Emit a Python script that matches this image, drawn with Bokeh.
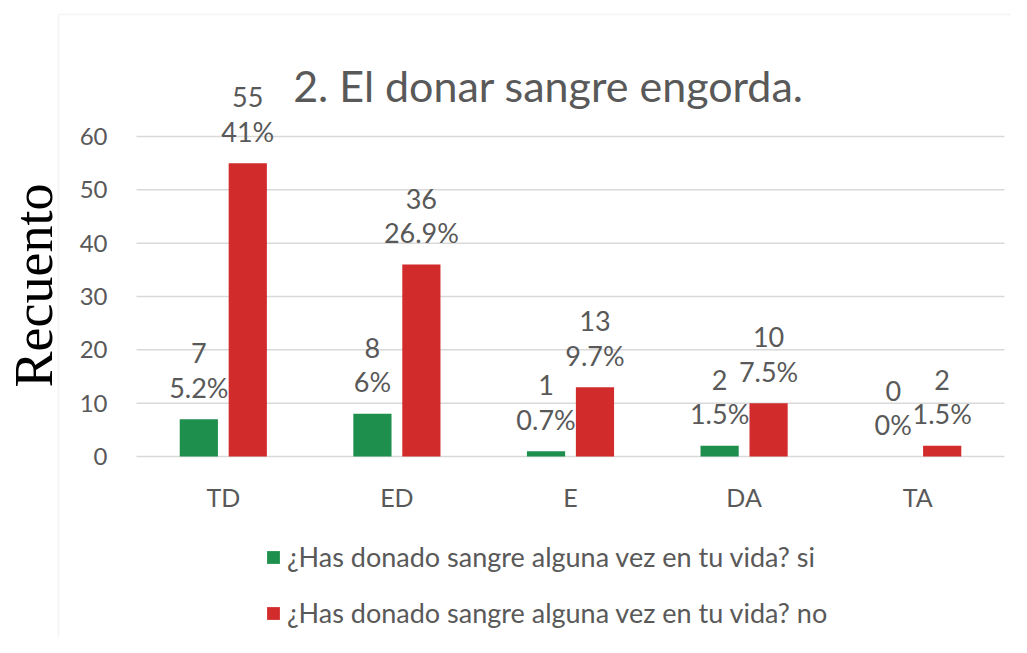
import math
from bokeh.plotting import figure
from bokeh.models import (Range1d, ColumnDataSource, LabelSet, Label, BoxAnnotation, Legend, LegendItem)
from bokeh.core.properties import value
from bokeh.transform import dodge
from bokeh.embed import file_html
from bokeh.resources import INLINE

categories = ["TD", "ED", "E", "DA", "TA"]
si_counts = [7, 8, 1, 2, 0]
no_counts = [55, 36, 13, 10, 2]
si_pct = ["5.2%", "6%", "0.7%", "1.5%", "0%"]
no_pct = ["41%", "26.9%", "9.7%", "7.5%", "1.5%"]
y_ticks = [0, 10, 20, 30, 40, 50, 60]

title_text = "2. El donar sangre engorda."
y_label = "Recuento"
label_si = "¿Has donado sangre alguna vez en tu vida? si"
label_no = "¿Has donado sangre alguna vez en tu vida? no"

GREEN = "#1F8F4E"
RED = "#D22B2B"
GRAY = "#595959"
GRID = "#D9D9D9"
FONT = "Lato"

# ---- layout geometry (picture pixels) ----
W, H = 1011, 637
FIG_X, FIG_Y = 0, 0            # observed offset of the figure in the picture
PLOT_L, PLOT_R = 136, 1004     # plot area left/right
PLOT_T, PLOT_B = 136, 456      # y=60 and y=0
YMAX = 60
n = len(categories)
px_per_cat = (PLOT_R - PLOT_L) / n
px_per_unit = (PLOT_B - PLOT_T) / YMAX

def dx(px):   # picture px -> data x (category index units, center of first = 0)
    return (px - (PLOT_L + px_per_cat / 2)) / px_per_cat

def dy(py):   # picture px -> data y
    return (PLOT_B - py) / px_per_unit

x0, x1 = dx(FIG_X), dx(FIG_X + W)
y0, y1 = dy(FIG_Y + H), dy(FIG_Y)

src = ColumnDataSource(dict(
    idx=list(range(n)), cat=categories,
    si=si_counts, no=no_counts,
    si_txt=[str(v) for v in si_counts], no_txt=[str(v) for v in no_counts],
    si_pct=si_pct, no_pct=no_pct,
))
tick_src = ColumnDataSource(dict(t=y_ticks, lab=[str(t) for t in y_ticks],
                                 xa=[-0.5] * len(y_ticks), xb=[n - 0.5] * len(y_ticks)))
cat_src = ColumnDataSource(dict(idx=list(range(n)), cat=categories, zero=[0] * n))

p = figure(x_range=Range1d(x0, x1), y_range=Range1d(y0, y1), width=W, height=H,
           output_backend="svg", toolbar_location=None, min_border=0)
p.axis.visible = False
p.grid.visible = False
p.outline_line_color = None

# chart border (left/top visible)
p.add_layout(BoxAnnotation(left=dx(58), top=dy(14), right=dx(3000), bottom=dy(3000),
                           fill_alpha=0, line_color=GRID, line_width=1.5, level="underlay"))

# grid lines
p.segment(x0="xa", x1="xb", y0="t", y1="t", source=tick_src, line_color=GRID, line_width=1.5)

OFF = 0.141
r_si = p.vbar(x=dodge("idx", -OFF), top="si", width=0.22, source=src,
              fill_color=GREEN, line_color=None)
r_no = p.vbar(x=dodge("idx", OFF), top="no", width=0.22, source=src,
              fill_color=RED, line_color=None)

LBL = "27px"
for xoff, top, cnt, pct in [(-OFF, "si", "si_txt", "si_pct"), (OFF, "no", "no_txt", "no_pct")]:
    p.add_layout(LabelSet(x=dodge("idx", xoff), y=top, text=pct, source=src,
                          y_offset=32, text_align="center", text_baseline="middle",
                          text_font=value(FONT), text_font_size=value(LBL), text_color=GRAY))
    p.add_layout(LabelSet(x=dodge("idx", xoff), y=top, text=cnt, source=src,
                          y_offset=66, text_align="center", text_baseline="middle",
                          text_font=value(FONT), text_font_size=value(LBL), text_color=GRAY))

# y tick labels
p.add_layout(LabelSet(x="xa", y="t", text="lab", source=tick_src, x_offset=-29,
                      text_align="right", text_baseline="middle",
                      text_font=value(FONT), text_font_size=value("24px"), text_color=GRAY))
# category labels
p.add_layout(LabelSet(x="idx", y="zero", text="cat", source=cat_src, y_offset=-40,
                      text_align="center", text_baseline="middle",
                      text_font=value(FONT), text_font_size=value("25px"), text_color=GRAY))

# title
p.add_layout(Label(x=dx(548), y=dy(85), text=title_text, text_align="center",
                   text_baseline="alphabetic", text_font=FONT, text_font_size="43px",
                   text_color=GRAY))
# y axis title
p.add_layout(Label(x=dx(33), y=dy(285), text=y_label, angle=math.pi / 2,
                   text_align="center", text_baseline="middle",
                   text_font="Liberation Serif", text_font_size="54px", text_color="black"))

legend = Legend(items=[LegendItem(label=label_si, renderers=[r_si]),
                       LegendItem(label=label_no, renderers=[r_no])],
                location=(265 - FIG_X, (FIG_Y + H) - 629), orientation="vertical",
                glyph_width=16, glyph_height=16, label_standoff=6, label_height=30, spacing=23,
                padding=0, margin=0, border_line_color=None, background_fill_alpha=0,
                label_text_font=FONT, label_text_font_size="27px", label_text_color=GRAY)
p.add_layout(legend, "center")

open("out.html", "w").write(file_html(p, INLINE))
